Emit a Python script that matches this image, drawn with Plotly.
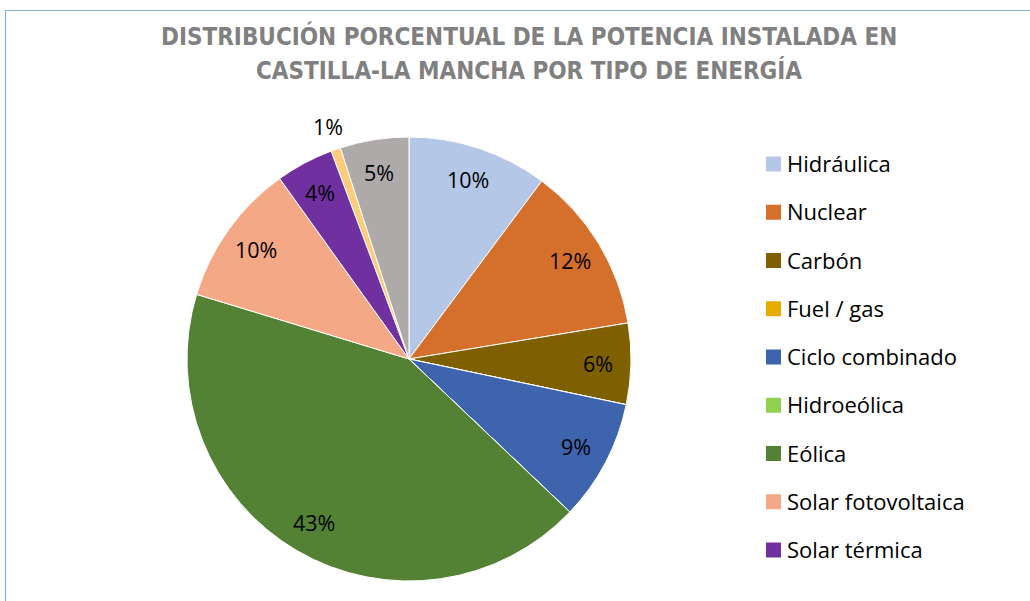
import math
import plotly.graph_objects as go

# ---- data ----
labels = ["Hidráulica", "Nuclear", "Carbón", "Fuel / gas", "Ciclo combinado",
          "Hidroeólica", "Eólica", "Solar fotovoltaica", "Solar térmica",
          "Otras renovables", "Cogeneración y residuos"]
values = [10.2, 12.2, 5.9, 0.0, 8.8, 0.0, 42.6, 10.4, 4.2, 0.7, 5.0]
colors = ["#b4c7e7", "#d4702b", "#7f6000", "#e6ac00", "#3e64ad",
          "#92d050", "#548235", "#f4a886", "#7030a0", "#fdcc7a", "#aeaaaa"]
legend_count = 9  # legend items visible in the frame
title_lines = ["DISTRIBUCIÓN PORCENTUAL DE LA POTENCIA INSTALADA EN",
               "CASTILLA-LA MANCHA POR TIPO DE ENERGÍA"]

W, H = 1030, 601
cx, cy, R = 409, 359, 222
FONT = "'Open Sans', Lato, sans-serif"

fig = go.Figure()
fig.add_trace(go.Pie(
    labels=labels, values=values, sort=False, direction="clockwise", rotation=0,
    marker=dict(colors=colors, line=dict(color="white", width=1)),
    textinfo="none", hoverinfo="label+percent", showlegend=False,
    domain=dict(x=[(cx - R) / W, (cx + R) / W], y=[1 - (cy + R) / H, 1 - (cy - R) / H]),
))

annotations = []
shapes = []
total = sum(values)
cum = 0.0
for lab, v in zip(labels, values):
    if v <= 0:
        continue
    mid = (cum + v / 2) / total * 2 * math.pi
    cum += v
    frac = 0.85 if v / total >= 0.02 else 1.11
    px = cx + frac * R * math.sin(mid)
    py = cy - frac * R * math.cos(mid)
    annotations.append(dict(
        x=px / W, y=1 - py / H, xref="paper", yref="paper",
        text=f"{round(v / total * 100):d}%", showarrow=False,
        font=dict(family=FONT, size=21.5, color="#000000"),
        xanchor="center", yanchor="middle"))

# title
for i, t in enumerate(title_lines):
    annotations.append(dict(
        x=529 / W, y=1 - (36 + 34 * i) / H, xref="paper", yref="paper",
        text=f"<b>{t}</b>", showarrow=False, xanchor="center", yanchor="middle",
        font=dict(family="'DejaVu Sans Condensed', sans-serif",
                  size=24, color="#808080")))

# manual legend
for i in range(legend_count):
    yc = 164 + 48.25 * i
    shapes.append(dict(type="rect", xref="paper", yref="paper",
                       x0=766 / W, x1=781 / W, y0=1 - (yc + 7.5) / H, y1=1 - (yc - 7.5) / H,
                       fillcolor=colors[i], line=dict(width=0)))
    annotations.append(dict(
        x=785 / W, y=1 - (yc - 1) / H, xref="paper", yref="paper", text=labels[i],
        showarrow=False, xanchor="left", yanchor="middle",
        font=dict(family=FONT, size=22, color="#000000")))

# chart border
shapes.append(dict(type="rect", xref="paper", yref="paper",
                   x0=5.5 / W, x1=1.2, y0=-0.2, y1=1 - 10.5 / H,
                   line=dict(color="#86b0de", width=1.2), fillcolor="rgba(0,0,0,0)"))

fig.update_layout(
    width=W, height=H, margin=dict(l=0, r=0, t=0, b=0),
    paper_bgcolor="white", plot_bgcolor="white",
    annotations=annotations, shapes=shapes, showlegend=False,
)

fig.write_html("out.html", config={"displayModeBar": False},
               post_script="document.body.style.margin='0';document.body.style.overflow='hidden';")
